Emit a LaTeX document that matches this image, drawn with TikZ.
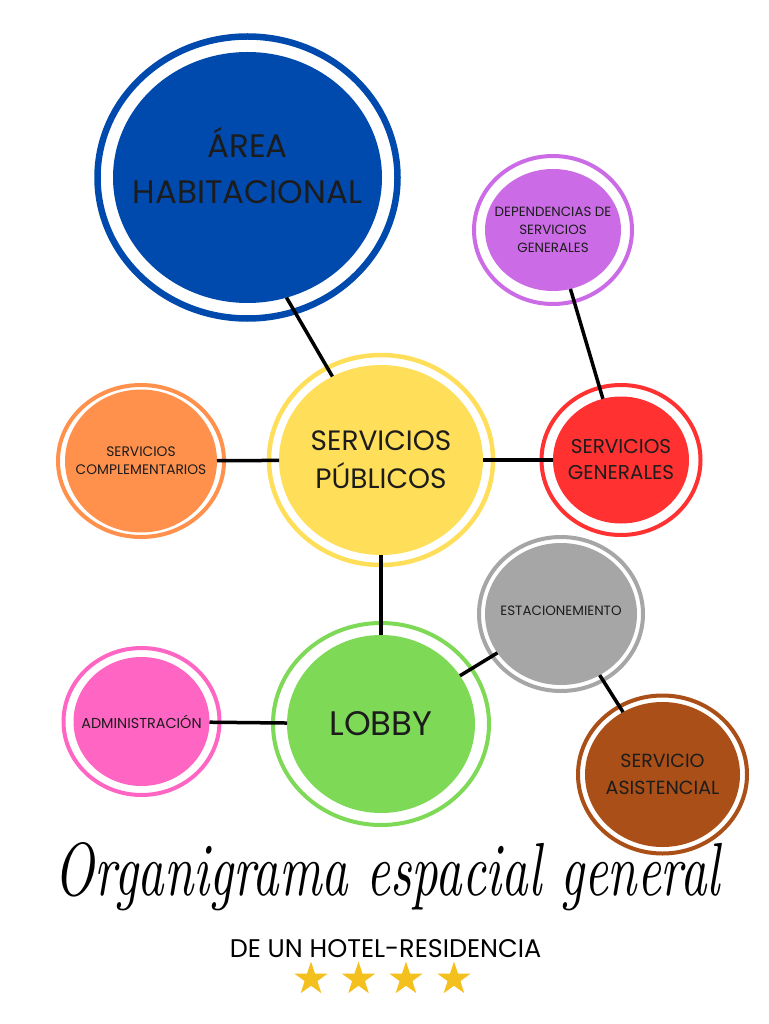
\documentclass[tikz,border=0pt]{standalone}
\usepackage{fontspec}
\usetikzlibrary{shapes.geometric, positioning}
\newfontfamily\canvafont{Poppins}
\definecolor{hotelblue}{HTML}{004AAD}
\definecolor{hotelpurple}{HTML}{CB6CE6}
\definecolor{hotelyellow}{HTML}{FFDE59}
\definecolor{hotelorange}{HTML}{FF914D}
\definecolor{hotelred}{HTML}{FF3131}
\definecolor{hotelgray}{HTML}{A6A6A6}
\definecolor{hotelgreen}{HTML}{7ED957}
\definecolor{hotelpink}{HTML}{FF66C4}
\definecolor{hotelbrown}{HTML}{AA4F17}
\definecolor{hotelgold}{HTML}{F4C01E}
\definecolor{hotelink}{HTML}{1C1C1C}
\newcommand{\tagfont}[2]{\canvafont\fontsize{#1}{#2}\selectfont}

\tikzset{
  bubble/.style={ellipse, inner sep=0pt, outer sep=0pt},
  tag/.style={text=hotelink, align=center, inner sep=0pt},
  ring/.style={line width=4pt},
  link/.style={line width=3.5pt, black},
  goldstar/.style={star, star points=5, star point ratio=2.6,
                   fill=hotelgold, inner sep=0pt, minimum size=35pt},
}

\begin{document}
\begin{tikzpicture}[x=1pt, y=-1pt]
  \fill[white] (0,0) rectangle (768,1024);
  \useasboundingbox (0,0) rectangle (768,1024);

  %% Area habitacional ──────────────────────────────────────────
  \node[bubble, fill=hotelblue, minimum width=269pt, minimum height=251pt,
        label={[tag, font=\tagfont{32.5}{46}, yshift=12pt]center:ÁREA\\HABITACIONAL}]
    (area) at (247.5,177.5) {};
  \draw[ring, hotelblue, line width=6.5pt] (area.center)
    ellipse [x radius=150pt, y radius=141pt];

  %% Dependencias de servicios generales ────────────────────────
  \node[bubble, fill=hotelpurple, minimum width=136pt, minimum height=122pt,
        label={[tag, font=\tagfont{13.4}{18}]center:DEPENDENCIAS DE\\SERVICIOS\\GENERALES}]
    (deps) at (553,230) {};
  \draw[ring, hotelpurple] (deps.center) ellipse [x radius=79pt, y radius=74pt];

  %% Servicios publicos ────────────────────────────────────────
  \node[bubble, fill=hotelyellow, minimum width=204pt, minimum height=190pt,
        label={[tag, font=\tagfont{28}{38}]center:SERVICIOS\\PÚBLICOS}]
    (publicos) at (381,460) {};
  \draw[ring, hotelyellow, line width=4.5pt] (publicos.center)
    ellipse [x radius=112pt, y radius=105pt];

  %% Servicios complementarios ─────────────────────────────────
  \node[bubble, fill=hotelorange, minimum width=152pt, minimum height=143pt,
        label={[tag, font=\tagfont{13.8}{18}]center:SERVICIOS\\COMPLEMENTARIOS}]
    (complem) at (141,461) {};
  \draw[ring, hotelorange] (complem.center) ellipse [x radius=83pt, y radius=76pt];

  %% Servicios generales ───────────────────────────────────────
  \node[bubble, fill=hotelred, minimum width=136pt, minimum height=127pt,
        label={[tag, font=\tagfont{20}{26}]center:SERVICIOS\\GENERALES}]
    (generales) at (621,460) {};
  \draw[ring, hotelred] (generales.center) ellipse [x radius=79.5pt, y radius=75pt];

  %% Estacionamiento ───────────────────────────────────────────
  \node[bubble, fill=hotelgray, minimum width=152pt, minimum height=142pt,
        label={[tag, font=\tagfont{13.5}{18}, yshift=3pt]center:ESTACIONEMIENTO}]
    (estac) at (561,614) {};
  \draw[ring, hotelgray] (estac.center) ellipse [x radius=82pt, y radius=77pt];

  %% Lobby ─────────────────────────────────────────────────────
  \node[bubble, fill=hotelgreen, minimum width=188pt, minimum height=178pt,
        label={[tag, font=\tagfont{34}{40}]center:LOBBY}]
    (lobby) at (381,724) {};
  \draw[ring, hotelgreen] (lobby.center) ellipse [x radius=108pt, y radius=101pt];

  %% Administracion ────────────────────────────────────────────
  \node[bubble, fill=hotelpink, minimum width=136pt, minimum height=129pt,
        label={[tag, font=\tagfont{14.4}{18}]center:ADMINISTRACIÓN}]
    (admin) at (141.5,721.5) {};
  \draw[ring, hotelpink] (admin.center) ellipse [x radius=78pt, y radius=73.5pt];

  %% Servicio asistencial ──────────────────────────────────────
  \node[bubble, fill=hotelbrown, minimum width=155pt, minimum height=145pt,
        label={[tag, font=\tagfont{19}{27}]center:SERVICIO\\ASISTENCIAL}]
    (asist) at (662.5,774.5) {};
  \draw[ring, hotelbrown] (asist.center) ellipse [x radius=84.5pt, y radius=79pt];

  %% Conexiones ────────────────────────────────────────────────
  \draw[link] (area.-72) -- (publicos);
  \draw[link] (deps) -- (generales);
  \draw[link] (complem) -- (publicos);
  \draw[link] (publicos) -- (generales);
  \draw[link] (publicos) -- (lobby);
  \draw[link] (admin) -- (lobby);
  \draw[link] (lobby) -- (estac);
  \draw[link] (estac) -- (asist);

  %% Titulo ────────────────────────────────────────────────────
  \node[anchor=base, inner sep=0pt, text=black] (title) at (387.5,895)
    {\resizebox{665pt}{53pt}{\itshape Organigrama espacial general}};
  \node[anchor=base, inner sep=0pt, text=black, font=\tagfont{25.5}{30}]
    (subtitle) at (385.5,957) {DE UN HOTEL-RESIDENCIA};
  \foreach \sx [count=\i] in {311,358.5,406,454}
    \node[goldstar] (star\i) at (\sx,979) {};
\end{tikzpicture}
\end{document}
